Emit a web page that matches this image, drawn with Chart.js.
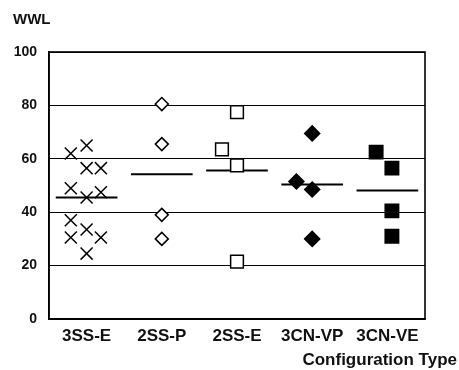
<!DOCTYPE html>
<html>
<head>
<meta charset="utf-8">
<script src="https://cdn.jsdelivr.net/npm/chart.js@4/dist/chart.umd.min.js"></script>
<style>
  html, body { margin: 0; padding: 0; background: #fff; }
  #wrap { width: 459px; height: 370px; }
</style>
</head>
<body>
<div id="wrap"><canvas id="myChart" width="459" height="370"></canvas></div>
<script>
// categories along the x axis
const categories = ['3SS-E', '2SS-P', '2SS-E', '3CN-VP', '3CN-VE'];

// WWL values, one list per configuration
const wwl3SSE = [62, 65, 56.5, 56.5, 49, 45.5, 47.5, 37, 30.5, 33.5, 30.5, 24.5];
const wwl2SSP = [80.5, 65.5, 39, 30];
const wwl2SSE = [77.5, 63.5, 57.5, 21.5];
const wwl3CNVP = [69.5, 51.5, 48.5, 30];
const wwl3CNVE = [62.5, 56.5, 40.5, 31];

// horizontal place of each marker inside its category (fraction of a category)
const jit3SSE = [-0.21, 0, 0, 0.19, -0.21, 0, 0.19, -0.21, -0.21, 0, 0.19, 0];
const jit2SSP = [0, 0, 0, 0];
const jit2SSE = [0, -0.2, 0, 0];
const jit3CNVP = [0, -0.21, 0, 0];
const jit3CNVE = [-0.15, 0.06, 0.06, 0.06];

// mean level drawn as a short bar per category
const means = [45.5, 54.2, 55.6, 50.4, 48.1];

const FONT = "'Liberation Sans', Arial, sans-serif";

function points(idx, vals, jit) {
  return vals.map((v, i) => ({ x: idx + jit[i], y: v }));
}

const markerSets = [
  { vals: wwl3SSE, jit: jit3SSE, style: 'crossRot', r: 8.5, fill: '#000' },
  { vals: wwl2SSP, jit: jit2SSP, style: 'rectRot', r: 6.5, fill: '#fff' },
  { vals: wwl2SSE, jit: jit2SSE, style: 'rect', r: 9, fill: '#fff' },
  { vals: wwl3CNVP, jit: jit3CNVP, style: 'rectRot', r: 7.5, fill: '#000' },
  { vals: wwl3CNVE, jit: jit3CNVE, style: 'rect', r: 9.5, fill: '#000' },
];

let datasets = markerSets.map((m, i) => ({
  type: 'scatter',
  label: categories[i],
  data: points(i, m.vals, m.jit),
  pointStyle: m.style,
  pointRadius: m.r,
  pointHoverRadius: m.r,
  backgroundColor: m.fill,
  borderColor: '#000',
  borderWidth: 1.5,
}));

means.forEach((m, i) => {
  datasets.push({
    type: 'line',
    label: 'mean ' + categories[i],
    data: [{ x: i - 0.41, y: m }, { x: i + 0.41, y: m }],
    borderColor: '#000',
    borderWidth: 2,
    pointRadius: 0,
    fill: false,
  });
});

// frame round the plot area plus the two axis captions
const framePlugin = {
  id: 'frame',
  afterDraw(chart) {
    const c = chart.ctx;
    const a = chart.chartArea;
    c.save();
    c.strokeStyle = '#000';
    c.lineWidth = 1.6;
    c.strokeRect(a.left, a.top, a.right - a.left, a.bottom - a.top);
    c.fillStyle = '#111';
    c.font = 'bold 15px ' + FONT;
    c.textBaseline = 'middle';
    c.textAlign = 'left';
    c.fillText('WWL', 13, 20);
    c.font = 'bold 17px ' + FONT;
    c.textAlign = 'right';
    c.fillText('Configuration Type', 457, 360);
    c.restore();
  },
};

let ctx = document.getElementById('myChart').getContext('2d');
window.myChart = new Chart(ctx, {
  data: { datasets: datasets },
  options: {
    responsive: false,
    animation: false,
    layout: { padding: { top: 52, right: 34, bottom: 0, left: 0 } },
    plugins: { legend: { display: false }, tooltip: { enabled: false } },
    scales: {
      x: {
        type: 'linear',
        min: -0.5,
        max: 4.5,
        afterBuildTicks: (s) => { s.ticks = categories.map((c, i) => ({ value: i })); },
        afterFit: (s) => { s.height = 51; },
        ticks: {
          callback: (v) => categories[v],
          color: '#111',
          padding: 7,
          maxRotation: 0,
          autoSkip: false,
          font: { family: FONT, size: 17, weight: 'bold' },
        },
        grid: { display: false, drawTicks: false },
        border: { color: '#000', width: 1.6 },
      },
      y: {
        min: 0,
        max: 100,
        afterFit: (s) => { s.width = 49; },
        ticks: {
          stepSize: 20,
          color: '#111',
          padding: 12,
          font: { family: FONT, size: 14, weight: 'bold' },
        },
        grid: { color: '#000', lineWidth: 1, drawTicks: false },
        border: { color: '#000', width: 1.6 },
      },
    },
  },
  plugins: [framePlugin],
});
</script>
</body>
</html>
